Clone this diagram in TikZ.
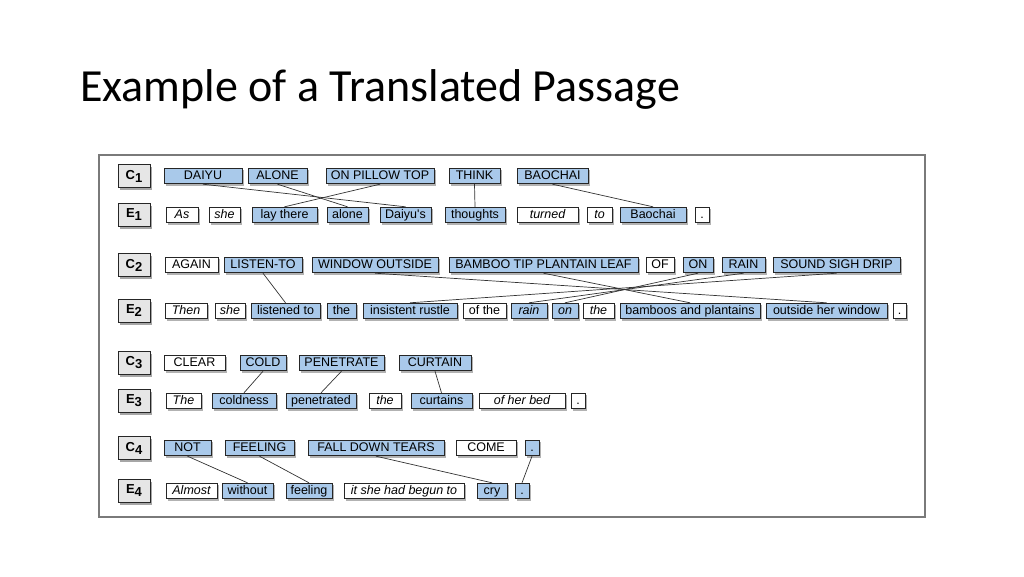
\documentclass[tikz,border=0pt]{standalone}
\usepackage{fontspec}
\newfontfamily\titlefont{Carlito}
\newfontfamily\wordfont{Liberation Sans}
\usepackage[dvipsnames]{xcolor}
\definecolor{LINKcolor}{HTML}{A9C9EA}
\definecolor{TAGcolor}{HTML}{E6E6E6}
\definecolor{FRAMEcolor}{HTML}{7A7A7A}
\usepackage{tikz}
\usetikzlibrary{shadows}

\begin{document}
\begin{tikzpicture}[x=1pt, y=-1pt]

    \tikzset{%
        word/.style={draw=black!85, line width=0.9pt, inner sep=0pt, minimum height=15.5,
                text height=8.6, text depth=1.2,
                font=\wordfont\fontsize{12.5}{14}\selectfont,
                drop shadow={shadow xshift=1.5pt, shadow yshift=-2pt, fill=black, opacity=0.3}},
        hit/.style={word, fill=LINKcolor},
        hitit/.style={hit, font=\wordfont\itshape\fontsize{12.5}{14}\selectfont},
        miss/.style={word, fill=white},
        missit/.style={miss, font=\wordfont\itshape\fontsize{12.5}{14}\selectfont},
        tag/.style={draw=black!85, line width=1pt, fill=TAGcolor, minimum width=32, minimum height=23,
                inner sep=0pt, font=\wordfont\bfseries\fontsize{13}{14}\selectfont,
                drop shadow={shadow xshift=1.5pt, shadow yshift=-2pt, fill=black, opacity=0.35}},
        link/.style={draw=black!80, line width=0.7pt}
    }

    \useasboundingbox (0, 0) rectangle (1024, 576);
    \node[anchor=base west, inner sep=0pt, font=\titlefont\fontsize{46}{50}\selectfont] (title) at (80, 101) {Example of a Translated Passage};
    \draw[FRAMEcolor, line width=1.2pt] (99, 155) rectangle (925, 517);

    % row tags
    \foreach \i/\yc/\ye in {1/176/215, 2/265/311, 3/363/401, 4/448/491} {%
            \node[tag] (tagc\i) at (134, \yc) {C\lower3pt\hbox{\i}};
            \node[tag] (tage\i) at (134, \ye) {E\lower3pt\hbox{\i}};
        }

    % sentence 1
    \foreach \id/\sty/\xa/\xb/\txt in {daiyu/hit/164/242/DAIYU, alone/hit/248/307/ALONE,
            pillow/hit/326/434/ON PILLOW TOP, think/hit/449/500/THINK, baochai/hit/517/588/BAOCHAI} {%
            \node[\sty, minimum width={(\xb-\xa)*1pt}] (c1-\id) at ({(\xa+\xb)/2}, 176) {\txt};
        }
    \foreach \id/\sty/\xa/\xb/\txt in {as/missit/166/198/As, she/missit/209/240/she, lay/hit/252/317/lay there,
            alone/hit/327/368/alone, daiyus/hit/380/431/Daiyu's, thoughts/hit/445/505/thoughts,
            turned/missit/517/578/turned, to/missit/587/612/to, baochai/hit/620/686/Baochai, dot/miss/695/709/.} {%
            \node[\sty, minimum width={(\xb-\xa)*1pt}] (e1-\id) at ({(\xa+\xb)/2}, 215) {\txt};
        }

    % sentence 2
    \foreach \id/\sty/\xa/\xb/\txt in {again/miss/165/218/AGAIN, listen/hit/224/302/LISTEN-TO,
            window/hit/312/438/WINDOW OUTSIDE, bamboo/hit/449/638/BAMBOO TIP PLANTAIN LEAF, of/miss/646/674/OF,
            on/hit/683/713/ON, rain/hit/722/765/RAIN, sound/hit/773/900/SOUND SIGH DRIP} {%
            \node[\sty, minimum width={(\xb-\xa)*1pt}] (c2-\id) at ({(\xa+\xb)/2}, 265) {\txt};
        }
    \foreach \id/\sty/\xa/\xb/\txt in {then/missit/165/207/Then, she/missit/215/245/she, listened/hit/251/320/listened to,
            the/hit/327/356/the, rustle/hit/363/457/insistent rustle, ofthe/miss/463/506/of the, rain/hitit/511/547/rain,
            on/hitit/552/578/on, thec/missit/583/614/the, bamboos/hit/620/760/bamboos and plantains,
            window/hit/766/887/outside her window, dot/miss/893/906/.} {%
            \node[\sty, minimum width={(\xb-\xa)*1pt}] (e2-\id) at ({(\xa+\xb)/2}, 311) {\txt};
        }

    % sentence 3
    \foreach \id/\sty/\xa/\xb/\txt in {clear/miss/164/225/CLEAR, cold/hit/240/286/COLD,
            penetrate/hit/299/384/PENETRATE, curtain/hit/399/471/CURTAIN} {%
            \node[\sty, minimum width={(\xb-\xa)*1pt}] (c3-\id) at ({(\xa+\xb)/2}, 363) {\txt};
        }
    \foreach \id/\sty/\xa/\xb/\txt in {the/missit/166/201/The, coldness/hit/212/276/coldness,
            penetrated/hit/286/356/penetrated, thec/missit/369/401/the, curtains/hit/411/472/curtains,
            bed/missit/479/565/of her bed, dot/miss/571/585/.} {%
            \node[\sty, minimum width={(\xb-\xa)*1pt}] (e3-\id) at ({(\xa+\xb)/2}, 401) {\txt};
        }

    % sentence 4
    \foreach \id/\sty/\xa/\xb/\txt in {not/hit/164/211/NOT, feeling/hit/225/294/FEELING,
            tears/hit/308/444/FALL DOWN TEARS, come/miss/456/516/COME, dot/hit/525/539/.} {%
            \node[\sty, minimum width={(\xb-\xa)*1pt}] (c4-\id) at ({(\xa+\xb)/2}, 448) {\txt};
        }
    \foreach \id/\sty/\xa/\xb/\txt in {almost/missit/166/217/Almost, without/hit/222/273/without,
            feeling/hit/286/332/feeling, begun/missit/344/464/it she had begun to, cry/hit/477/507/cry,
            dot/hit/515/529/.} {%
            \node[\sty, minimum width={(\xb-\xa)*1pt}] (e4-\id) at ({(\xa+\xb)/2}, 491) {\txt};
        }

    % alignment links
    \foreach \a/\b in {c1-daiyu/e1-daiyus, c1-alone/e1-alone, c1-pillow/e1-lay, c1-think/e1-thoughts,
            c1-baochai/e1-baochai, c2-listen/e2-listened, c2-window/e2-window, c2-bamboo/e2-bamboos,
            c2-on/e2-on, c2-rain/e2-rain, c2-sound/e2-rustle, c3-cold/e3-coldness, c3-penetrate/e3-penetrated,
            c3-curtain/e3-curtains, c4-not/e4-without, c4-feeling/e4-feeling, c4-tears/e4-cry, c4-dot/e4-dot} {%
            \draw[link] (\a.south) -- (\b.north);
        }

\end{tikzpicture}
\end{document}
